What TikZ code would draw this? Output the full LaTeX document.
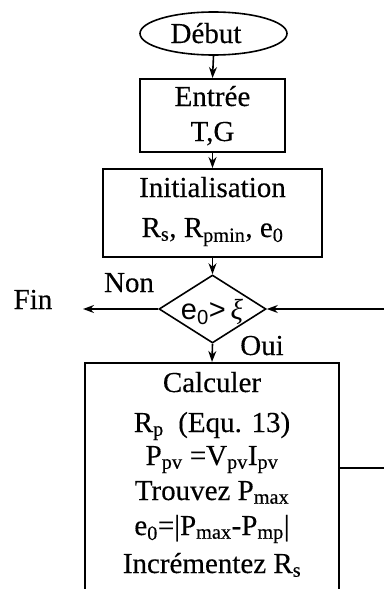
\documentclass[tikz,border=0pt]{standalone}
\usepackage{fontspec}
\setmainfont{Liberation Serif}[FakeBold=0.25]
\newfontfamily\sfdiam{Liberation Sans}
\newfontfamily\xifont{Liberation Serif}
\usetikzlibrary{shapes.geometric,arrows.meta}
\tikzset{
  txt/.style={font=\fontsize{29}{34}\selectfont, inner sep=0pt, anchor=base},
  boxn/.style={draw, rectangle, inner sep=0pt, anchor=north, line width=1.6pt},
  arr/.style={-{Stealth[length=11pt,width=8pt]}, line width=1.6pt},
  ln/.style={line width=1.6pt}
}
\newcommand{\sbs}[1]{\textsubscript{#1}}
\begin{document}
\begin{tikzpicture}[x=1pt,y=-1pt]
\clip (0,0) rectangle (384,589);
\fill[white] (0,0) rectangle (384,589);
% Debut
\node[draw, ellipse, line width=1.6pt, minimum width=147, minimum height=43, inner sep=0pt] (deb) at (213.5,33.5) {};
\node[txt] (debt) at (206,43) {Début};
% Entree
\node[boxn, minimum width=145, minimum height=73] (ent) at (212.5,78) {};
\node[txt] (entt1) at (212.5,106) {Entrée};
\node[txt] (entt2) at (212.5,141) {T,G};
% Init
\node[boxn, minimum width=219, minimum height=88] (ini) at (212.5,168) {};
\node[txt] (init1) at (212.5,197) {Initialisation};
\node[txt] (init2) at (212.5,237) {R\sbs{s}, R\sbs{pmin}, e\sbs{0}};
% Diamond
\node[draw, diamond, line width=1.6pt, minimum width=107, minimum height=68, inner sep=0pt, aspect=1.57] (dia) at (212.5,309) {};
\node[inner sep=0pt, anchor=base, font=\fontsize{29}{34}\selectfont] (dlab) at (212,319) {{\sfdiam e\textsubscript{0}>}\,{\xifont\itshape ξ}};
% labels
\node[txt] (fin) at (33,309) {Fin};
\node[txt] (non) at (129,292) {Non};
\node[txt] (oui) at (262,355) {Oui};
\coordinate (finend) at (83,309);
\coordinate (rin) at (384,309);
\coordinate (rout) at (384,468);
% Calc
\node[boxn, minimum width=254, minimum height=260] (calc) at (212,362) {};
\node[txt] (c1) at (212,392) {Calculer};
\node[txt] (c2) at (212,432) {R\sbs{p}\ \ (Equ. 13)};
\node[txt] (c3) at (212,465) {P\sbs{pv} =V\sbs{pv}I\sbs{pv}};
\node[txt] (c4) at (212,500) {Trouvez P\sbs{max}};
\node[txt] (c5) at (212,535) {e\sbs{0}=|P\sbs{max}-P\sbs{mp}|};
\node[txt] (c6) at (212,573) {Incrémentez R\sbs{s}};
% connectors
\draw[arr] (deb.south) -- (ent.north);
\draw[arr] (ent.south) -- (ini.north);
\draw[arr] (ini.south) -- (dia.north);
\draw[arr] (dia.south) -- (calc.north);
\draw[arr] (dia.west) -- (finend);
\draw[arr] (rin) -- (dia.east);
\draw[ln] (calc.east |- rout) -- (rout);
\end{tikzpicture}
\end{document}
